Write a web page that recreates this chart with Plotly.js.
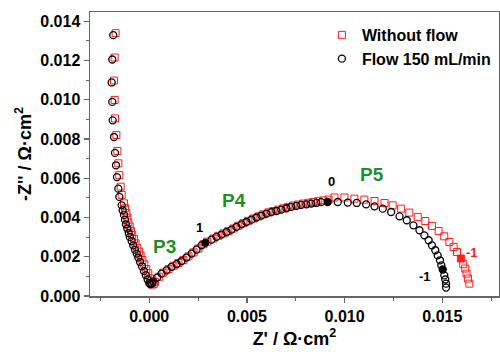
<!DOCTYPE html>
<html><head><meta charset="utf-8">
<script src="https://cdn.plot.ly/plotly-3.0.1.min.js"></script>
<style>html,body{margin:0;padding:0;background:#fff}</style></head>
<body><div id="chart" style="width:500px;height:352px"></div>
<script>
// Flow 150 mL/min (black circles)
const flowX = [-0.00184,-0.00189,-0.00192,-0.00189,-0.00187,-0.00180,-0.00175,-0.00170,-0.00165,-0.00158,-0.00153,-0.00141,-0.00136,-0.00129,-0.00124,-0.00119,-0.00112,-0.00105,-0.00099,-0.00090,-0.00082,-0.00073,-0.00064,-0.00056,-0.00047,-0.00037,-0.00027,-0.00017,-0.00008,0.00000,0.00006,0.00014,0.00020,0.00041,0.00063,0.00089,0.00114,0.00140,0.00165,0.00191,0.00217,0.00242,0.00268,0.00287,0.00319,0.00344,0.00370,0.00395,0.00421,0.00446,0.00472,0.00497,0.00523,0.00549,0.00574,0.00600,0.00625,0.00651,0.00676,0.00702,0.00727,0.00753,0.00778,0.00804,0.00829,0.00855,0.00880,0.00913,0.00965,0.01016,0.01062,0.01110,0.01153,0.01195,0.01238,0.01281,0.01318,0.01352,0.01383,0.01408,0.01430,0.01447,0.01464,0.01476,0.01488,0.01495,0.01502,0.01510,0.01515,0.01519,0.01519];
const flowY = [0.01329,0.01205,0.01088,0.00989,0.00895,0.00810,0.00729,0.00666,0.00606,0.00547,0.00505,0.00462,0.00437,0.00413,0.00389,0.00365,0.00344,0.00321,0.00301,0.00280,0.00258,0.00236,0.00216,0.00196,0.00173,0.00151,0.00127,0.00106,0.00084,0.00066,0.00060,0.00065,0.00075,0.00094,0.00114,0.00131,0.00148,0.00162,0.00177,0.00196,0.00216,0.00236,0.00258,0.00271,0.00287,0.00301,0.00313,0.00325,0.00338,0.00352,0.00365,0.00377,0.00389,0.00400,0.00410,0.00420,0.00427,0.00433,0.00440,0.00447,0.00454,0.00459,0.00464,0.00467,0.00471,0.00474,0.00478,0.00479,0.00479,0.00476,0.00474,0.00467,0.00457,0.00445,0.00428,0.00406,0.00386,0.00360,0.00335,0.00309,0.00284,0.00258,0.00233,0.00207,0.00182,0.00156,0.00135,0.00105,0.00084,0.00063,0.00043];
const flowDecadeIdx = [43, 67, 86];

// Without flow (red squares)
const noFlowX = [-0.00172,-0.00177,-0.00180,-0.00177,-0.00175,-0.00168,-0.00163,-0.00158,-0.00153,-0.00146,-0.00141,-0.00129,-0.00124,-0.00117,-0.00112,-0.00107,-0.00100,-0.00093,-0.00087,-0.00078,-0.00070,-0.00061,-0.00052,-0.00044,-0.00035,-0.00025,-0.00015,-0.00005,0.00004,0.00010,0.00016,0.00024,0.00030,0.00051,0.00073,0.00099,0.00124,0.00150,0.00175,0.00201,0.00227,0.00252,0.00278,0.00297,0.00329,0.00354,0.00380,0.00405,0.00431,0.00456,0.00482,0.00507,0.00533,0.00559,0.00584,0.00610,0.00635,0.00661,0.00686,0.00712,0.00737,0.00763,0.00788,0.00814,0.00839,0.00865,0.00890,0.00918,0.00948,0.00999,0.01050,0.01101,0.01153,0.01204,0.01246,0.01289,0.01331,0.01374,0.01413,0.01447,0.01481,0.01510,0.01536,0.01558,0.01575,0.01595,0.01607,0.01617,0.01624,0.01631,0.01638];
const noFlowY = [0.01339,0.01215,0.01098,0.00999,0.00905,0.00820,0.00739,0.00676,0.00616,0.00557,0.00515,0.00472,0.00447,0.00423,0.00399,0.00375,0.00354,0.00331,0.00311,0.00290,0.00268,0.00246,0.00226,0.00206,0.00183,0.00161,0.00137,0.00116,0.00090,0.00068,0.00058,0.00062,0.00072,0.00098,0.00119,0.00137,0.00154,0.00168,0.00183,0.00202,0.00222,0.00242,0.00264,0.00277,0.00293,0.00307,0.00319,0.00331,0.00344,0.00358,0.00371,0.00383,0.00395,0.00406,0.00416,0.00426,0.00433,0.00440,0.00447,0.00454,0.00461,0.00466,0.00471,0.00475,0.00479,0.00483,0.00487,0.00491,0.00502,0.00502,0.00496,0.00491,0.00484,0.00474,0.00462,0.00445,0.00425,0.00403,0.00382,0.00357,0.00331,0.00304,0.00275,0.00250,0.00224,0.00191,0.00162,0.00140,0.00114,0.00089,0.00063];
const noFlowDecadeIdx = [85];

// Text labels
const regionLabels = ['P3', 'P4', 'P5'];
const regionX = [0.00080, 0.00436, 0.01142];
const regionY = [0.00253, 0.00489, 0.00620];
const decadeLabels = ['1', '0', '-1', '-1'];
const decadeX = [0.00259, 0.00931, 0.01413, 0.01653];
const decadeY = [0.00348, 0.00583, 0.00097, 0.00224];
const decadeColors = ['#000', '#000', '#000', 'rgb(255,30,30)'];

const FONT = 'Liberation Sans, Arial, Helvetica, sans-serif';
const RED = 'rgb(255,30,30)';

const flowSym = flowX.map((_, i) => flowDecadeIdx.includes(i) ? 'circle' : 'circle-open');
const noFlowSym = noFlowX.map((_, i) => noFlowDecadeIdx.includes(i) ? 'square' : 'square-open');

const traces = [
  {x: noFlowX, y: noFlowY, type: 'scatter', mode: 'markers', name: 'Without flow',
   marker: {symbol: noFlowSym, size: 7, color: RED, line: {width: 1, color: RED}}},
  {x: flowX, y: flowY, type: 'scatter', mode: 'markers', name: 'Flow 150 mL/min',
   marker: {symbol: flowSym, size: 7, color: '#000', line: {width: 1.3, color: '#000'}}}
];

const annotations = [];
regionLabels.forEach((t, i) => annotations.push({
  x: regionX[i], y: regionY[i], xref: 'x', yref: 'y', text: '<b>' + t + '</b>', showarrow: false,
  font: {family: FONT, size: 19, color: '#1f8f2a'}, xanchor: 'center', yanchor: 'middle'}));
decadeLabels.forEach((t, i) => annotations.push({
  x: decadeX[i], y: decadeY[i], xref: 'x', yref: 'y', text: '<b>' + t + '</b>', showarrow: false,
  font: {family: FONT, size: 13, color: decadeColors[i]}, xanchor: 'center', yanchor: 'middle'}));

const axisCommon = {
  showgrid: false, zeroline: false, showline: true, linecolor: '#666', linewidth: 1.5,
  ticks: 'outside', ticklen: 5, tickwidth: 1.2, tickcolor: '#666', mirror: true,
  tickfont: {family: FONT, size: 16, color: '#000', weight: 'bold'},
  minor: {ticks: 'outside', ticklen: 3, tickwidth: 1, tickcolor: '#666'}
};

const layout = {
  width: 500, height: 352,
  margin: {l: 90, r: 1, t: 12, b: 56},
  paper_bgcolor: '#fff', plot_bgcolor: '#fff',
  showlegend: true,
  legend: {x: 0.567, y: 0.979, xanchor: 'left', yanchor: 'top', bgcolor: 'rgba(0,0,0,0)',
           font: {family: FONT, size: 16, color: '#000', weight: 'bold'}},
  xaxis: Object.assign({}, axisCommon, {
    range: [-0.00303, 0.0179], tickvals: [0, 0.005, 0.01, 0.015],
    ticktext: ['0.000', '0.005', '0.010', '0.015'],
    minor: Object.assign({}, axisCommon.minor, {tickvals: [-0.0025, 0.0025, 0.0075, 0.0125, 0.0175]}),
    title: {text: "<b>Z' / Ω·cm<sup>2</sup></b>", font: {family: FONT, size: 18, color: '#000'}, standoff: 8}
  }),
  yaxis: Object.assign({}, axisCommon, {
    range: [0, 0.01447], tickvals: [0, 0.002, 0.004, 0.006, 0.008, 0.010, 0.012, 0.014],
    ticktext: ['0.000', '0.002', '0.004', '0.006', '0.008', '0.010', '0.012', '0.014'],
    minor: Object.assign({}, axisCommon.minor, {tickvals: [0.001, 0.003, 0.005, 0.007, 0.009, 0.011, 0.013]}),
    title: {text: "<b>-Z'' / Ω·cm<sup>2</sup></b>", font: {family: FONT, size: 18, color: '#000'}, standoff: 4}
  }),
  annotations: annotations
};

Plotly.newPlot('chart', traces, layout, {staticPlot: true, displayModeBar: false});
</script>
</body></html>
